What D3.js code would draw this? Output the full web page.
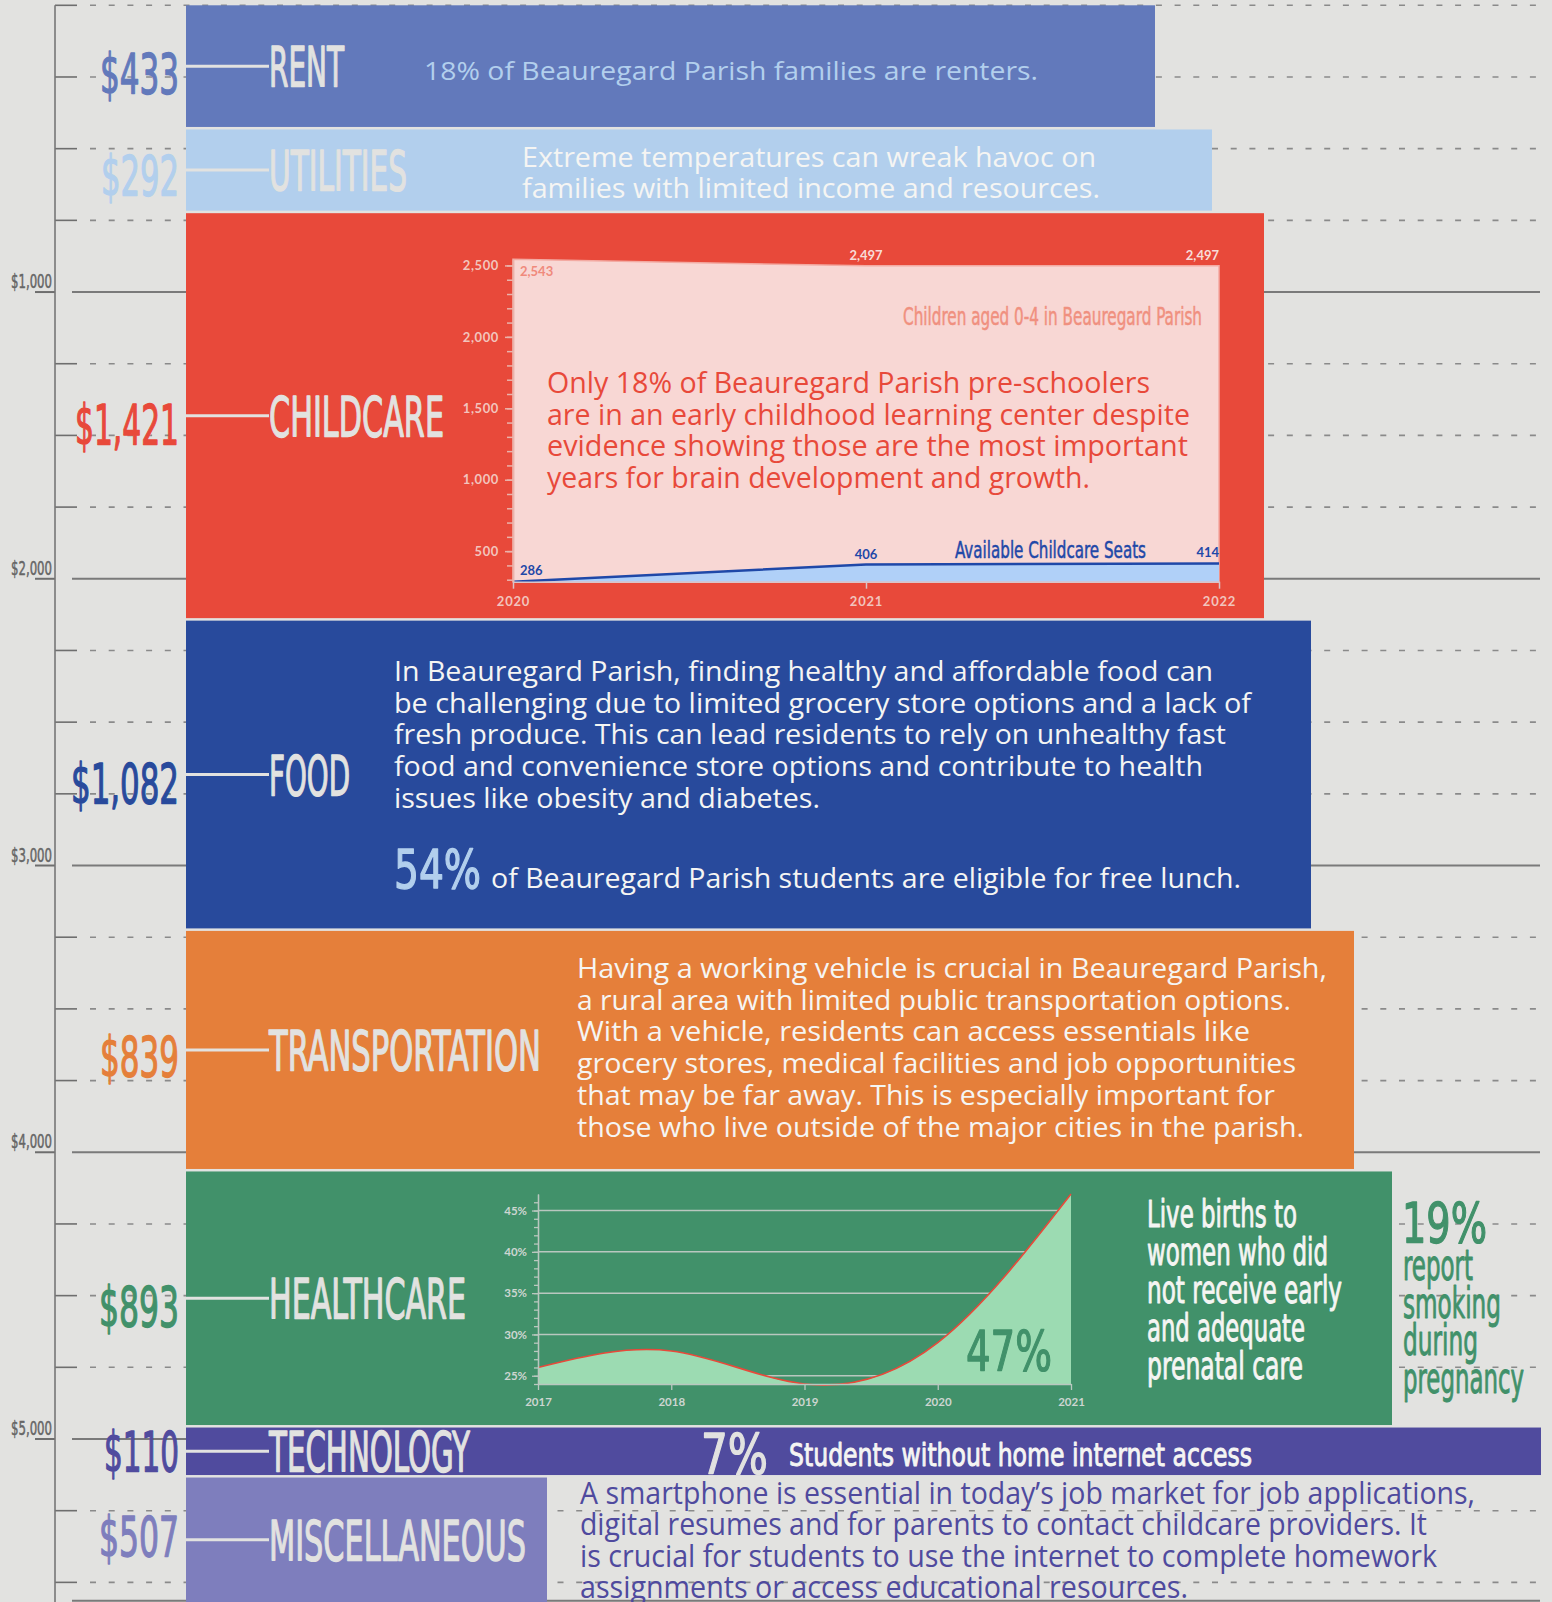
<!DOCTYPE html>
<html>
<head>
<meta charset="utf-8">
<script src="https://cdn.jsdelivr.net/npm/d3@7"></script>
<style>
  body { margin: 0; background: #e2e2e0; }
  svg { display: block; }
</style>
</head>
<body>
<svg id="chart"></svg>
<script>
// ---- data ----
const categories = ["RENT", "UTILITIES", "CHILDCARE", "FOOD", "TRANSPORTATION", "HEALTHCARE", "TECHNOLOGY", "MISCELLANEOUS"];
const monthlyCost = [433, 292, 1421, 1082, 839, 893, 110, 507];
const costLabels = ["$433", "$292", "$1,421", "$1,082", "$839", "$893", "$110", "$507"];
const axisTickLabels = ["$1,000", "$2,000", "$3,000", "$4,000", "$5,000"];

// childcare inset
const childYears = [2020, 2021, 2022];
const childrenAged04 = [2543, 2497, 2497];
const childcareSeats = [286, 406, 414];

// healthcare inset
const prenatalYears = [2017, 2018, 2019, 2020, 2021];
const noEarlyPrenatalCare = [26, 28, 24, 29, 47];

// notes
const rentNote = ["18% of Beauregard Parish families are renters."];
const utilitiesNote = ["Extreme temperatures can wreak havoc on", "families with limited income and resources."];
const childcareNote = ["Only 18% of Beauregard Parish pre-schoolers",
  "are in an early childhood learning center despite",
  "evidence showing those are the most important",
  "years for brain development and growth."];
const foodNote = ["In Beauregard Parish, finding healthy and affordable food can",
  "be challenging due to limited grocery store options and a lack of",
  "fresh produce. This can lead residents to rely on unhealthy fast",
  "food and convenience store options and contribute to health",
  "issues like obesity and diabetes."];
const lunchStat = "54%";
const lunchText = "of Beauregard Parish students are eligible for free lunch.";
const transportNote = ["Having a working vehicle is crucial in Beauregard Parish,",
  "a rural area with limited public transportation options.",
  "With a vehicle, residents can access essentials like",
  "grocery stores, medical facilities and job opportunities",
  "that may be far away. This is especially important for",
  "those who live outside of the major cities in the parish."];
const prenatalStat = "47%";
const prenatalNote = ["Live births to", "women who did", "not receive early", "and adequate", "prenatal care"];
const smokingStat = "19%";
const smokingNote = ["report", "smoking", "during", "pregnancy"];
const internetStat = "7%";
const internetText = "Students without home internet access";
const miscNote = ["A smartphone is essential in today\u2019s job market for job applications,",
  "digital resumes and for parents to contact childcare providers. It",
  "is crucial for students to use the internet to complete homework",
  "assignments or access educational resources."];

// ---- look ----
const barColors = ["#6279bb", "#b2cfed", "#e8493a", "#284a9c", "#e57f3a", "#41916a", "#504b9e", "#7e7ebd"];
const barRight = [1155, 1212, 1264, 1311, 1354, 1392, 1541, 547];
const valueWidth = [79, 78, 104, 108, 79, 80, 75, 80];
const labelWidth = [75, 138, 175, 81, 272, 197, 201, 257];
const valueDy = [27, 25, 28, 28, 26, 28, 20, 16];

const COND = "'Liberation Sans Narrow','DejaVu Sans Condensed','Arial Narrow',sans-serif";
const BODY = "'Open Sans','Noto Sans',sans-serif";
const SMALL = "Lato,'Open Sans',sans-serif";
const BG = "#e2e2e0";
const WHITE = "#f5f5f3";

const W = 1552, H = 1602;
const BAR_X = 186, LABEL_X = 269, MIN_BAR = 50;

const svg = d3.select("#chart").attr("width", W).attr("height", H);
svg.append("rect").attr("width", W).attr("height", H).attr("fill", BG);

const y = d3.scaleLinear().domain([0, 5000]).range([5.3, 1439]);

function addText(parent, str, x, yb, o) {
  const t = parent.append("text")
    .attr("x", x).attr("y", yb).text(str)
    .attr("font-family", o.font)
    .attr("font-size", o.size)
    .attr("fill", o.color)
    .attr("text-anchor", o.anchor || "start");
  if (o.width) t.attr("textLength", o.width).attr("lengthAdjust", "spacingAndGlyphs");
  if (o.weight) t.attr("font-weight", o.weight);
  // the condensed display face in the original is heavier than the narrow fallback
  if (o.font === COND && o.size >= 20) {
    t.attr("stroke", o.color).attr("stroke-width", o.size >= 50 ? 1.3 : o.size >= 30 ? 0.9 : 0.5)
      .attr("stroke-linejoin", "round");
  }
  return t;
}
function addLines(parent, lines, x, y0, lh, o, widths) {
  lines.forEach((s, i) => addText(parent, s, x, y0 + i * lh, Object.assign({}, o, { width: widths ? widths[i] : null })));
}

// ---- grid ----
const grid = svg.append("g");
const total = d3.sum(monthlyCost);
d3.range(0, 5750, 250).forEach(v => {
  const yy = y(v);
  if (v > 0 && v % 1000 === 0) {
    grid.append("line").attr("x1", 35).attr("x2", 55).attr("y1", yy).attr("y2", yy)
      .attr("stroke", "#6e6e6e").attr("stroke-width", 2);
    grid.append("line").attr("x1", 72).attr("x2", 1540).attr("y1", yy).attr("y2", yy)
      .attr("stroke", "#7a7a7a").attr("stroke-width", 2);
  } else {
    grid.append("line").attr("x1", 55).attr("x2", 77).attr("y1", yy).attr("y2", yy)
      .attr("stroke", "#6e6e6e").attr("stroke-width", 1.6);
    grid.append("line").attr("x1", 90).attr("x2", 1540).attr("y1", yy).attr("y2", yy)
      .attr("stroke", "#8a8a8a").attr("stroke-width", 1.6).attr("stroke-dasharray", "6 12.7");
  }
});
// bottom line at the total
grid.append("line").attr("x1", 72).attr("x2", 1540)
  .attr("y1", Math.min(y(total), H - 1.2)).attr("y2", Math.min(y(total), H - 1.2))
  .attr("stroke", "#7a7a7a").attr("stroke-width", 2);
grid.append("line").attr("x1", 55).attr("x2", 55).attr("y1", y(0)).attr("y2", H)
  .attr("stroke", "#777").attr("stroke-width", 1.6);
axisTickLabels.forEach((s, i) => {
  addText(grid, s, 52, y((i + 1) * 1000) - 4, { font: COND, size: 20, color: "#666", anchor: "end", width: 41 });
});

// ---- bars ----
let cursor = y(0);
const bars = categories.map((c, i) => {
  const top = cursor;
  const h = Math.max(y(monthlyCost[i]) - y(0), MIN_BAR);
  cursor = top + h;
  const mid = (top + Math.min(top + h - 2.5, H)) / 2;
  return { cat: c, i, top, h, mid };
});

const barG = svg.append("g");
barG.selectAll("rect").data(bars).join("rect")
  .attr("x", BAR_X)
  .attr("y", d => d.top)
  .attr("width", d => barRight[d.i] - BAR_X)
  .attr("height", d => d.h - 2.5)
  .attr("fill", d => barColors[d.i]);

bars.forEach(d => {
  barG.append("line").attr("x1", BAR_X).attr("x2", LABEL_X).attr("y1", d.mid).attr("y2", d.mid)
    .attr("stroke", BG).attr("stroke-width", 3);
  addText(barG, d.cat, LABEL_X, d.mid + 20, { font: COND, size: 56, color: BG, width: labelWidth[d.i] });
  addText(barG, costLabels[d.i], 179, d.mid + valueDy[d.i], { font: COND, size: 56, color: barColors[d.i], anchor: "end", width: valueWidth[d.i] });
});

// ---- notes ----
const notes = svg.append("g");
addLines(notes, rentNote, 424, 80, 0, { font: BODY, size: 26, color: "#b2cfed" }, [614]);
addLines(notes, utilitiesNote, 522, 166.5, 31.5, { font: BODY, size: 28, color: WHITE }, [574, 578]);
addLines(notes, foodNote, 394, 681, 31.7, { font: BODY, size: 28, color: WHITE }, [819, 857, 832, 809, 426]);
addText(notes, lunchStat, 394, 888, { font: COND, size: 53, color: "#b2cfed", width: 87 });
addText(notes, lunchText, 491, 888, { font: BODY, size: 27, color: WHITE, width: 750 });
addLines(notes, transportNote, 577, 978, 31.7, { font: BODY, size: 28, color: WHITE }, [750, 714, 673, 719, 698, 727]);
addLines(notes, prenatalNote, 1147, 1227, 38, { font: COND, size: 37, color: WHITE }, [150, 181, 195, 158, 156]);
addText(notes, smokingStat, 1402, 1242, { font: COND, size: 56, color: "#41916a", width: 85 });
addLines(notes, smokingNote, 1403, 1280, 37.7, { font: COND, size: 42, color: "#41916a" }, [70, 98, 75, 121]);
addText(notes, internetStat, 701, 1473, { font: COND, size: 56, color: BG, width: 67 });
addText(notes, internetText, 789, 1466, { font: COND, size: 32, color: WHITE, width: 463 });
addLines(notes, miscNote, 580, 1504, 31.4, { font: BODY, size: 31, color: "#4f4a9e" }, [895, 847, 857, 608]);

// ---- childcare inset ----
const cc = svg.append("g");
const cx = d3.scaleLinear().domain([2020, 2022]).range([513, 1219]);
const cy = d3.scaleLinear().domain([286, 2543]).range([581.7, 259.3]);
const childRows = childYears.map((yr, i) => ({ yr, kids: childrenAged04[i], seats: childcareSeats[i] }));

cc.append("path").datum(childRows)
  .attr("d", d3.area().x(d => cx(d.yr)).y0(cy(286)).y1(d => cy(d.kids)))
  .attr("fill", "#f8d7d4").attr("stroke", "#f3aaa2").attr("stroke-width", 1.5);
cc.append("path").datum(childRows)
  .attr("d", d3.area().x(d => cx(d.yr)).y0(cy(286)).y1(d => cy(d.seats)))
  .attr("fill", "#b0d0f8");
cc.append("path").datum(childRows)
  .attr("d", d3.line().x(d => cx(d.yr)).y(d => cy(d.seats)))
  .attr("fill", "none").attr("stroke", "#1f48a8").attr("stroke-width", 2.5);

const ccMinor = cc.append("g").attr("transform", `translate(${cx(2020)},0)`)
  .call(d3.axisLeft(cy).tickValues(d3.range(300, 2501, 100)).tickSize(6).tickFormat("").tickSizeOuter(0));
ccMinor.selectAll("line,path").attr("stroke", "#eab3ab").attr("stroke-width", 1.5);
const ccY = cc.append("g").attr("transform", `translate(${cx(2020)},0)`)
  .call(d3.axisLeft(cy).tickValues([500, 1000, 1500, 2000, 2500]).tickSize(8).tickPadding(6)
    .tickFormat(d3.format(",")).tickSizeOuter(0));
ccY.selectAll("line,path").attr("stroke", "#eab3ab").attr("stroke-width", 1.5);
ccY.selectAll("text").attr("fill", "#f2c4bd").attr("font-family", SMALL).attr("font-weight", 700)
  .attr("font-size", 13).attr("letter-spacing", 0.6);
const ccX = cc.append("g").attr("transform", `translate(0,${cy(286)})`)
  .call(d3.axisBottom(cx).tickValues(childYears).tickFormat(d3.format("d")).tickSize(7).tickPadding(8).tickSizeOuter(0));
ccX.selectAll("line,path").attr("stroke", "#d9c4c9").attr("stroke-width", 1.5);
ccX.selectAll("text").attr("fill", "#f2c4bd").attr("font-family", SMALL).attr("font-weight", 700)
  .attr("font-size", 13).attr("letter-spacing", 0.8);

const lbl = { font: SMALL, size: 13, weight: 700 };
addText(cc, d3.format(",")(childrenAged04[0]), cx(2020) + 7, cy(childrenAged04[0]) + 17, Object.assign({}, lbl, { color: "#f08a7c" }));
addText(cc, d3.format(",")(childrenAged04[1]), cx(2021), cy(childrenAged04[1]) - 6, Object.assign({}, lbl, { color: "#f8dcd8", anchor: "middle" }));
addText(cc, d3.format(",")(childrenAged04[2]), cx(2022), cy(childrenAged04[2]) - 6, Object.assign({}, lbl, { color: "#f8dcd8", anchor: "end" }));
addText(cc, childcareSeats[0], cx(2020) + 7, cy(childcareSeats[0]) - 7, Object.assign({}, lbl, { color: "#1f48a8" }));
addText(cc, childcareSeats[1], cx(2021), cy(childcareSeats[1]) - 6, Object.assign({}, lbl, { color: "#1f48a8", anchor: "middle" }));
addText(cc, childcareSeats[2], cx(2022), cy(childcareSeats[2]) - 6, Object.assign({}, lbl, { color: "#1f48a8", anchor: "end" }));
addText(cc, "Children aged 0-4 in Beauregard Parish", cx(2022) - 17, 325, { font: COND, size: 25, color: "#f0907f", anchor: "end", width: 299 });
addText(cc, "Available Childcare Seats", cx(2022) - 73, cy(childcareSeats[2]) - 5, { font: COND, size: 23, color: "#1f48a8", anchor: "end", width: 191 });
addLines(cc, childcareNote, 547, 393, 31.7, { font: BODY, size: 29, color: "#e8493a" }, [603, 643, 641, 543]);

// ---- healthcare inset ----
const hc = svg.append("g");
const hx = d3.scaleLinear().domain([2017, 2021]).range([538, 1071]);
const hy = d3.scaleLinear().domain([24, 47]).range([1384, 1194]);
const healthRows = prenatalYears.map((yr, i) => ({ yr, v: noEarlyPrenatalCare[i] }));

hc.selectAll(".grid").data([25, 30, 35, 40, 45]).join("line")
  .attr("x1", hx(2017)).attr("x2", hx(2021))
  .attr("y1", d => hy(d)).attr("y2", d => hy(d))
  .attr("stroke", "#b9c7bf").attr("stroke-width", 1.5);
hc.append("path").datum(healthRows)
  .attr("d", d3.area().curve(d3.curveNatural).x(d => hx(d.yr)).y0(hy(24)).y1(d => hy(d.v)))
  .attr("fill", "#9cdbb2");
hc.append("path").datum(healthRows)
  .attr("d", d3.line().curve(d3.curveNatural).x(d => hx(d.yr)).y(d => hy(d.v)))
  .attr("fill", "none").attr("stroke", "#e8493a").attr("stroke-width", 1.6);

const hMinor = hc.append("g").attr("transform", `translate(${hx(2017)},0)`)
  .call(d3.axisLeft(hy).tickValues(d3.range(24, 47, 1)).tickSize(4).tickFormat("").tickSizeOuter(0));
hMinor.selectAll("line,path").attr("stroke", "#b9c7bf").attr("stroke-width", 1.3);
const hY = hc.append("g").attr("transform", `translate(${hx(2017)},0)`)
  .call(d3.axisLeft(hy).tickValues([25, 30, 35, 40, 45]).tickSize(6).tickPadding(5)
    .tickFormat(d => d + "%").tickSizeOuter(0));
hY.selectAll("line,path").attr("stroke", "#b9c7bf").attr("stroke-width", 1.3);
hY.selectAll("text").attr("fill", "#cdd6d1").attr("font-family", SMALL).attr("font-weight", 700).attr("font-size", 11.5);
const hX = hc.append("g").attr("transform", `translate(0,${hy(24)})`)
  .call(d3.axisBottom(hx).tickValues(prenatalYears).tickFormat(d3.format("d")).tickSize(6).tickPadding(8).tickSizeOuter(0));
hX.selectAll("line,path").attr("stroke", "#b9c7bf").attr("stroke-width", 1.3);
hX.selectAll("text").attr("fill", "#cdd6d1").attr("font-family", SMALL).attr("font-weight", 700).attr("font-size", 11.5);

addText(hc, prenatalStat, 966, 1370, { font: COND, size: 56, color: "#41916a", width: 86 });
</script>
</body>
</html>
